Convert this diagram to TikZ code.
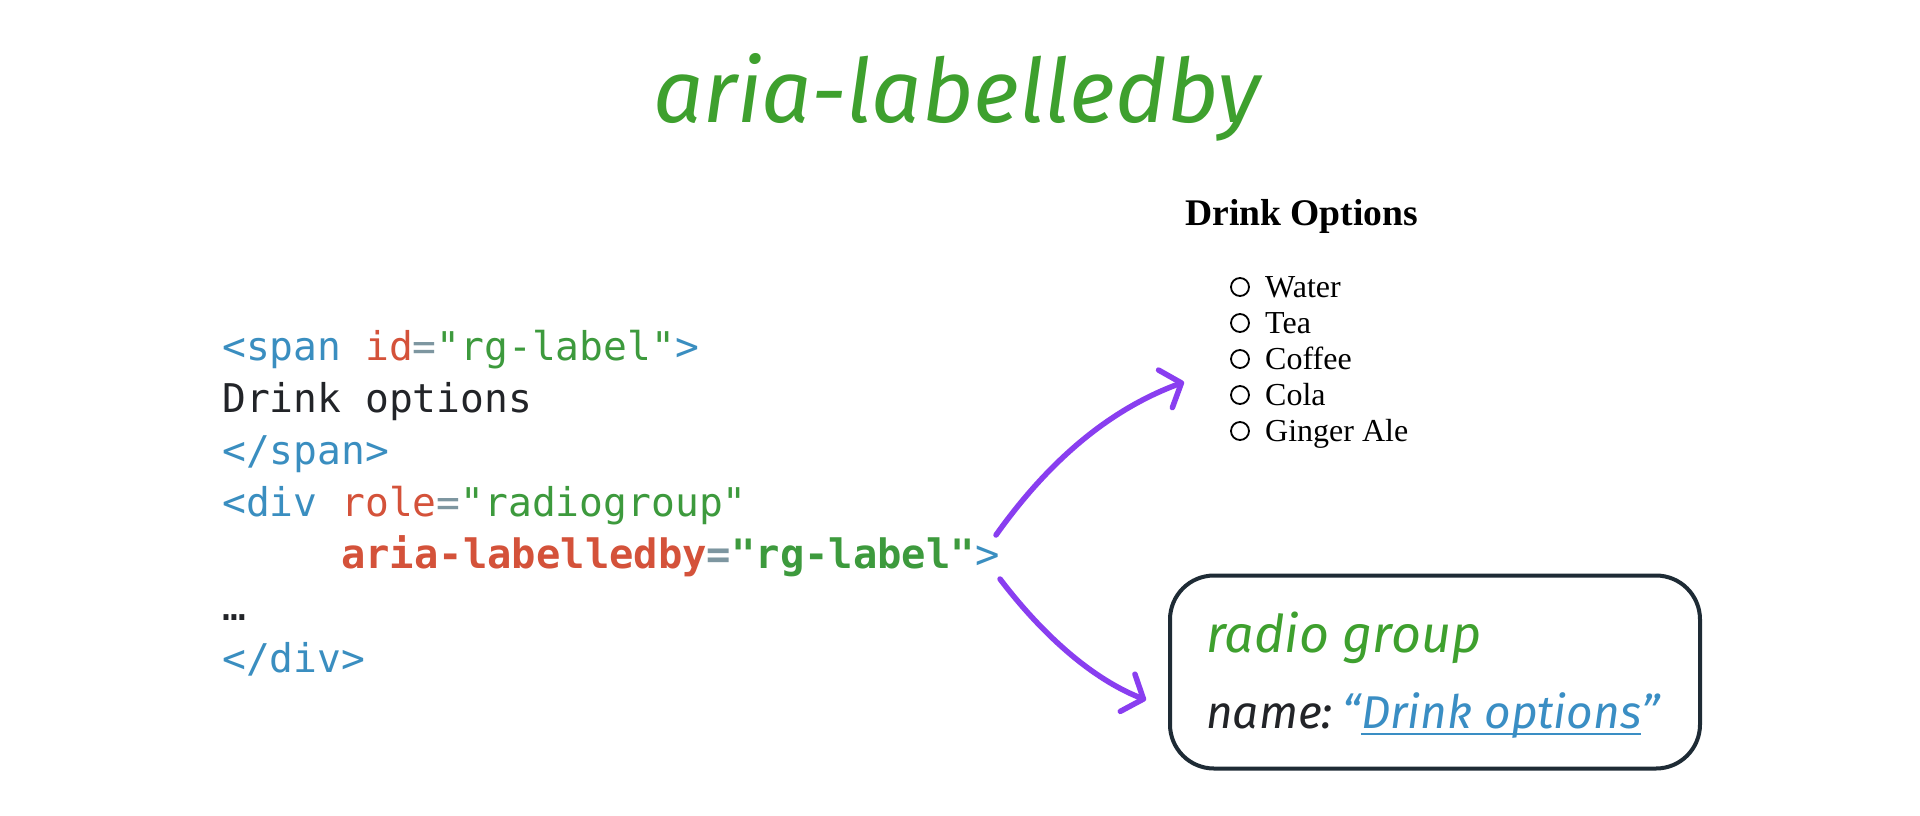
\documentclass[tikz,border=0pt]{standalone}
\usepackage{fontspec}
\setmainfont{Liberation Serif}
\setmonofont{DejaVu Sans Mono}
\newfontfamily\hand{Fira Sans}
\usetikzlibrary{arrows.meta}
\definecolor{titlegreen}{RGB}{62,160,46}
\definecolor{tagblue}{RGB}{58,142,192}
\definecolor{attrred}{RGB}{212,82,58}
\definecolor{valgreen}{RGB}{61,154,61}
\definecolor{eqgray}{RGB}{125,150,160}
\definecolor{codedark}{RGB}{34,36,40}
\definecolor{arrowpurple}{RGB}{137,62,240}
\definecolor{boxdark}{RGB}{30,43,53}
\definecolor{linkblue}{RGB}{58,142,196}
\tikzset{
  code/.style={anchor=base west, inner sep=0pt, font=\ttfamily\fontsize{39.6}{46}\selectfont},
  radioitem/.style={anchor=base west, inner sep=0pt, font=\rmfamily\fontsize{32}{36}\selectfont, text=black},
  radiocircle/.style={draw=black, line width=1.8pt},
  handtext/.style={anchor=base west, inner sep=0pt, font=\hand\itshape\fontsize{46}{52}\selectfont},
  linkarrow/.style={draw=arrowpurple, line width=5.5pt, line cap=round,
    -{Straight Barb[length=17pt,width=40pt,round]}},
}
\begin{document}
\begin{tikzpicture}[x=1pt,y=-1pt]
\useasboundingbox[fill=white] (0,0) rectangle (1920,815);

% title
\node[anchor=base, inner sep=0pt, text=titlegreen, font=\hand\itshape\fontsize{88.5}{96}\selectfont] (title) at (957,122) {aria-labelledby};

% code
\node[code] (l1) at (222,360) {\textcolor{tagblue}{<span} \textcolor{attrred}{id}\textcolor{eqgray}{=}\textcolor{valgreen}{"rg-label"}\textcolor{tagblue}{>}};
\node[code, text=codedark] (l2) at (222,412) {Drink options};
\node[code, text=tagblue] (l3) at (222,464) {</span>};
\node[code] (l4) at (222,516) {\textcolor{tagblue}{<div} \textcolor{attrred}{role}\textcolor{eqgray}{=}\textcolor{valgreen}{"radiogroup"}};
\node[code, font=\ttfamily\bfseries\fontsize{40.5}{46}\selectfont] (l5) at (341,568) {\textcolor{attrred}{aria-labelledby}\textcolor{eqgray}{=}\textcolor{valgreen}{"rg-label"}\textcolor{tagblue}{\mdseries>}};
\node[code, text=codedark] (l6) at (222,620) {…};
\node[code, text=tagblue] (l7) at (222,672) {</div>};

% rendered radio group
\node[anchor=base west, inner sep=0pt, font=\rmfamily\bfseries\fontsize{37.6}{42}\selectfont] (hdr) at (1185,225) {Drink Options};
\foreach \t [count=\i] in {Water,Tea,Coffee,Cola,Ginger Ale}{
  \node[radioitem] (r\i) at (1265,{297+36*(\i-1)}) {\t};
  \draw[radiocircle] (1240,{287+36*(\i-1)}) circle[radius=9];
}

% accessibility tree box
\node[draw=boxdark, line width=4pt, rounded corners=44pt, minimum width=530pt, minimum height=193pt, inner sep=0pt] (box) at (1435,672) {};
\node[handtext, text=titlegreen, font=\hand\itshape\fontsize{52}{56}\selectfont] (rg) at (1206,652) {radio group};
\node[handtext, text=codedark] (nm) at (1206,728) {name:};
\node[handtext, text=linkblue] (lq) at (1342,728) {“};
\node[handtext, text=linkblue] (lk) at (lq.base east) {Drink options};
\node[handtext, text=linkblue] (rq) at (lk.base east) {”};
\draw[linkblue, line width=2.5pt] ([yshift=-6pt]lk.base west) -- ([yshift=-6pt]lk.base east);

% arrows
\coordinate (s1) at (996,535);
\coordinate (t1) at (1184,382);
\coordinate (s2) at (1000,579);
\coordinate (t2) at (1146,700);
\draw[linkarrow] (s1) .. controls (1048,462) and (1108,410) .. (t1);
\draw[linkarrow] (s2) .. controls (1035,625) and (1085,676) .. (t2);
\end{tikzpicture}
\end{document}
